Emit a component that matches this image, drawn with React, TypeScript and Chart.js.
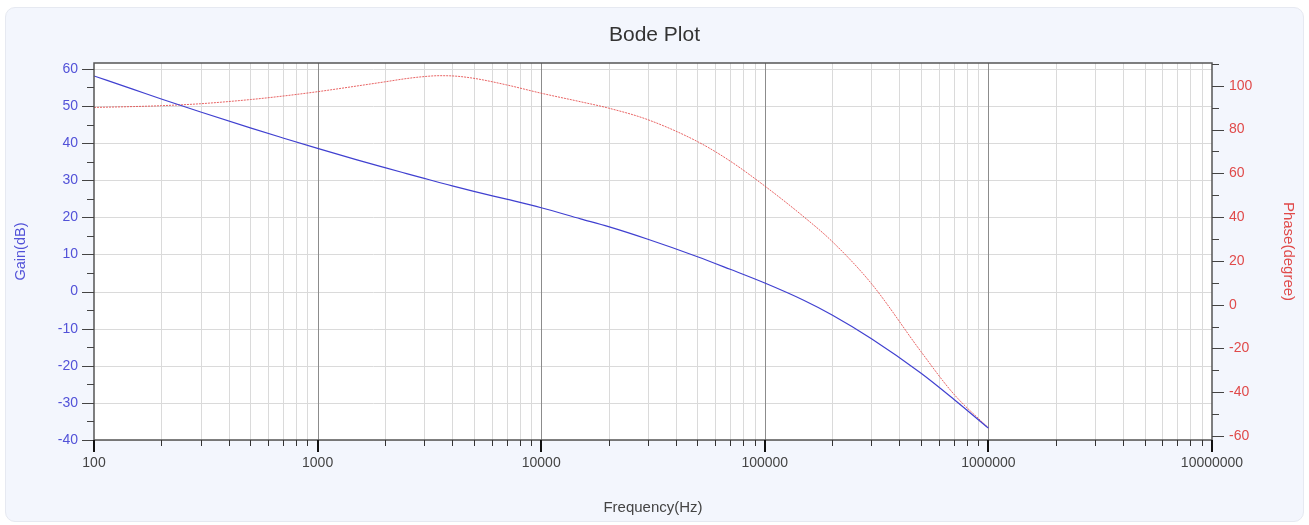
import React, { useEffect, useRef } from 'react';
import { Chart, registerables } from 'chart.js';

Chart.register(...registerables);

// ---- data ----
const freqHz = [100, 150, 200, 300, 500, 700, 1000, 1500, 2000, 2500, 3000, 3500, 4000, 5000, 7000, 10000, 15000, 20000, 30000, 50000, 70000, 100000, 150000, 200000, 300000, 500000, 700000, 1000000];
const gainDb = [58.1, 54.5, 51.9, 48.4, 44.1, 41.4, 38.6, 35.5, 33.4, 31.8, 30.5, 29.4, 28.5, 27.0, 24.9, 22.6, 19.6, 17.5, 14.1, 9.4, 6.0, 2.3, -2.4, -6.3, -12.7, -22.0, -29.0, -36.8];
const phaseDeg = [90.1, 90.5, 90.9, 91.8, 93.7, 95.3, 97.3, 99.9, 101.8, 103.3, 104.2, 104.6, 104.5, 103.4, 100.4, 96.6, 92.7, 89.8, 84.5, 74.5, 65.6, 54.2, 40.0, 28.9, 9.6, -21.5, -40.8, -56.3];

const freqTicks = [100, 1000, 10000, 100000, 1000000, 10000000];
const gainTicks = [-40, -30, -20, -10, 0, 10, 20, 30, 40, 50, 60];
const gainMinorTicks = [-35, -25, -15, -5, 5, 15, 25, 35, 45, 55];
const phaseTicks = [-60, -40, -20, 0, 20, 40, 60, 80, 100];
const phaseMinorTicks = [-50, -30, -10, 10, 30, 50, 70, 90, 110];

const FONT = 'Arial, "Liberation Sans", Helvetica, sans-serif';

const bodePlugin = {
  id: 'bodeGrid',
  beforeDatasetsDraw(chart: any) {
    const { ctx, chartArea: a, scales } = chart;
    const xs = scales.x;
    const yg = scales.yGain;
    ctx.save();
    ctx.fillStyle = '#ffffff';
    ctx.fillRect(a.left, a.top, a.right - a.left, a.bottom - a.top);
    // minor vertical grid
    ctx.lineWidth = 1;
    ctx.strokeStyle = '#dadada';
    for (let i = 0; i < freqTicks.length - 1; i++) {
      const d = freqTicks[i];
      for (let k = 2; k <= 9; k++) {
        const x = Math.round(xs.getPixelForValue(k * d)) + 0.5;
        ctx.beginPath();
        ctx.moveTo(x, a.top);
        ctx.lineTo(x, a.bottom);
        ctx.stroke();
      }
    }
    // horizontal grid
    for (const v of gainTicks) {
      const y = Math.round(yg.getPixelForValue(v)) + 0.5;
      ctx.beginPath();
      ctx.moveTo(a.left, y);
      ctx.lineTo(a.right, y);
      ctx.stroke();
    }
    // decade lines
    ctx.strokeStyle = '#8c8c8c';
    for (let i = 1; i < freqTicks.length - 1; i++) {
      const x = Math.round(xs.getPixelForValue(freqTicks[i])) + 0.5;
      ctx.beginPath();
      ctx.moveTo(x, a.top);
      ctx.lineTo(x, a.bottom);
      ctx.stroke();
    }
    ctx.restore();
  },
  afterDatasetsDraw(chart: any) {
    const { ctx, chartArea: a, scales } = chart;
    const xs = scales.x;
    const yg = scales.yGain;
    const yp = scales.yPhase;
    ctx.save();
    // frame
    ctx.strokeStyle = '#555555';
    ctx.lineWidth = 1.5;
    ctx.strokeRect(a.left, a.top, a.right - a.left, a.bottom - a.top);
    // y tick marks
    ctx.lineWidth = 1;
    ctx.strokeStyle = '#444444';
    const hTick = (x0: number, x1: number, y: number) => {
      const yy = Math.round(y) + 0.5;
      ctx.beginPath();
      ctx.moveTo(x0, yy);
      ctx.lineTo(x1, yy);
      ctx.stroke();
    };
    for (const v of gainTicks) hTick(a.left - 12, a.left, yg.getPixelForValue(v));
    for (const v of gainMinorTicks) hTick(a.left - 7, a.left, yg.getPixelForValue(v));
    for (const v of phaseTicks) hTick(a.right, a.right + 12, yp.getPixelForValue(v));
    for (const v of phaseMinorTicks) {
      const y = yp.getPixelForValue(v);
      if (y >= a.top - 0.5 && y <= a.bottom + 0.5) hTick(a.right, a.right + 7, y);
    }
    // x tick marks
    ctx.strokeStyle = '#333333';
    for (let i = 0; i < freqTicks.length - 1; i++) {
      const d = freqTicks[i];
      for (let k = 2; k <= 9; k++) {
        const x = Math.round(xs.getPixelForValue(k * d)) + 0.5;
        ctx.beginPath();
        ctx.moveTo(x, a.bottom);
        ctx.lineTo(x, a.bottom + 6);
        ctx.stroke();
      }
    }
    ctx.strokeStyle = '#111111';
    ctx.lineWidth = 2;
    for (const v of freqTicks) {
      const x = Math.round(xs.getPixelForValue(v));
      ctx.beginPath();
      ctx.moveTo(x, a.bottom);
      ctx.lineTo(x, a.bottom + 12);
      ctx.stroke();
    }
    ctx.restore();
  },
};

export default function App() {
  const ref = useRef<HTMLCanvasElement | null>(null);

  useEffect(() => {
    if (!ref.current) return;
    const gainPoints = freqHz.map((f, i) => ({ x: f, y: gainDb[i] }));
    const phasePoints = freqHz.map((f, i) => ({ x: f, y: phaseDeg[i] }));
    const hiddenGrid = { display: true, drawOnChartArea: false, drawTicks: true, tickLength: 12, color: 'rgba(0,0,0,0)' };
    const chart = new Chart(ref.current, {
      type: 'line',
      data: {
        datasets: [
          {
            label: 'Gain',
            data: gainPoints,
            yAxisID: 'yGain',
            borderColor: '#4040d0',
            borderWidth: 1.2,
            pointRadius: 0,
            cubicInterpolationMode: 'monotone',
            fill: false,
          },
          {
            label: 'Phase',
            data: phasePoints,
            yAxisID: 'yPhase',
            borderColor: 'rgba(228,72,72,0.85)',
            borderWidth: 1,
            borderDash: [2, 1],
            pointRadius: 0,
            cubicInterpolationMode: 'monotone',
            fill: false,
          },
        ],
      },
      options: {
        responsive: false,
        animation: false,
        devicePixelRatio: 1,
        layout: { padding: 0 },
        plugins: {
          legend: { display: false },
          tooltip: { enabled: false },
          title: {
            display: true,
            text: 'Bode Plot',
            color: '#333333',
            font: { family: FONT, size: 21, weight: 'normal' },
            padding: { top: 22.4, bottom: 15.4 },
          },
        },
        scales: {
          x: {
            type: 'logarithmic',
            position: 'bottom',
            min: 100,
            max: 10000000,
            afterBuildTicks: (s: any) => {
              s.ticks = freqTicks.map((v) => ({ value: v }));
            },
            afterFit: (s: any) => {
              s.height = 85;
            },
            ticks: {
              color: '#444444',
              font: { family: FONT, size: 14 },
              padding: 3,
              autoSkip: false,
              maxRotation: 0,
              callback: (v: any) => String(v),
            },
            grid: hiddenGrid,
            border: { display: false },
            title: {
              display: true,
              text: 'Frequency(Hz)',
              color: '#444444',
              font: { family: FONT, size: 15 },
              padding: { top: 0, bottom: 8.5 },
            },
          },
          yGain: {
            type: 'linear',
            position: 'left',
            min: -40,
            max: 61.6,
            afterBuildTicks: (s: any) => {
              s.ticks = gainTicks.map((v) => ({ value: v }));
            },
            afterFit: (s: any) => {
              s.width = 94;
            },
            ticks: { color: '#5252d8', font: { family: FONT, size: 14 }, padding: 4 },
            grid: hiddenGrid,
            border: { display: false },
            title: {
              display: true,
              text: 'Gain(dB)',
              color: '#5252d8',
              font: { family: FONT, size: 14.5 },
              padding: { top: 12, bottom: 0 },
            },
          },
          yPhase: {
            type: 'linear',
            position: 'right',
            min: -61.8,
            max: 110.4,
            afterBuildTicks: (s: any) => {
              s.ticks = phaseTicks.map((v) => ({ value: v }));
            },
            afterFit: (s: any) => {
              s.width = 97;
            },
            ticks: { color: '#e04a4a', font: { family: FONT, size: 14 }, padding: 5 },
            grid: hiddenGrid,
            border: { display: false },
            title: {
              display: true,
              text: 'Phase(degree)',
              color: '#e04a4a',
              font: { family: FONT, size: 15 },
              padding: { top: 11.5, bottom: 0 },
            },
          },
        },
      } as any,
      plugins: [bodePlugin],
    });
    return () => chart.destroy();
  }, []);

  return (
    <div style={{ position: 'absolute', left: 0, top: 0, width: 1309, height: 525, background: '#ffffff' }}>
      <div
        style={{
          position: 'absolute',
          left: 5,
          top: 7,
          width: 1299,
          height: 515,
          borderRadius: 10,
          background: '#f3f6fd',
          border: '1px solid #e6e9f1',
          boxSizing: 'border-box',
        }}
      />
      <canvas ref={ref} width={1309} height={525} style={{ position: 'absolute', left: 0, top: 0, width: 1309, height: 525 }} />
    </div>
  );
}
